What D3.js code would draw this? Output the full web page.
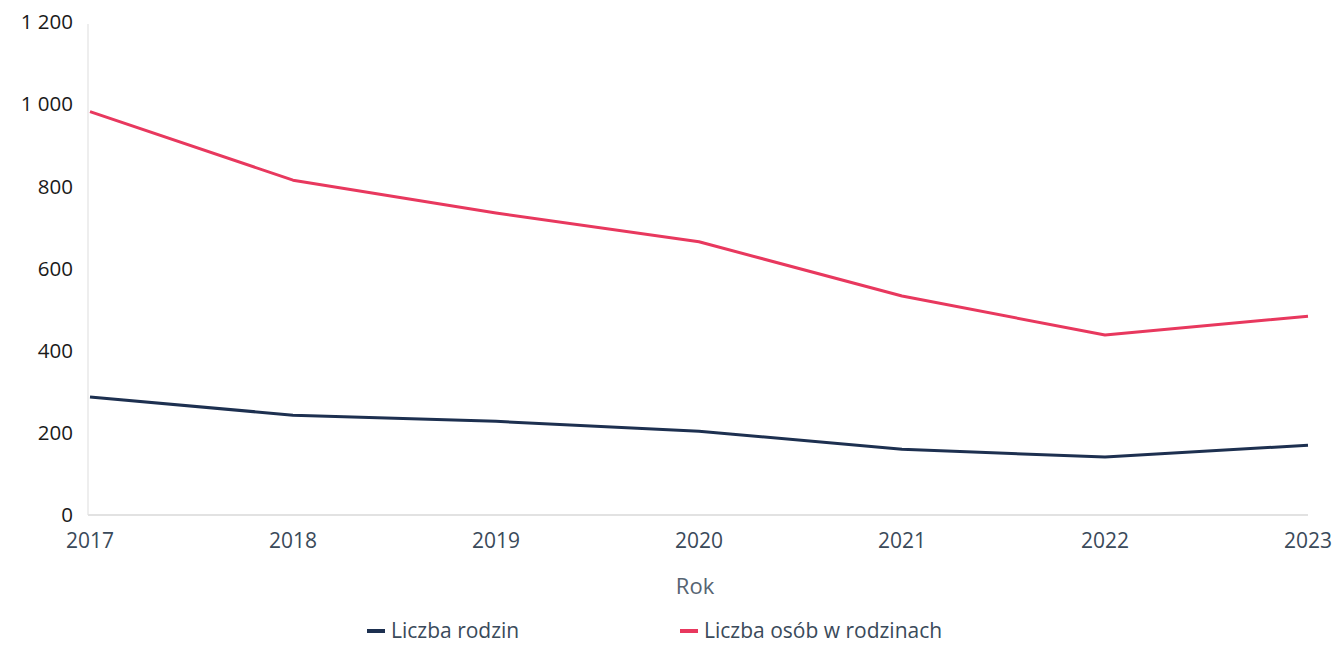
<!DOCTYPE html>
<html>
<head>
<meta charset="utf-8">
<script src="https://cdn.jsdelivr.net/npm/d3@7"></script>
<style>
  body { margin: 0; background: #fff; }
  text { font-family: "Open Sans", "DejaVu Sans", sans-serif; }
</style>
</head>
<body>
<div id="chart"></div>
<script>
// Years on the x axis
const years = [2017, 2018, 2019, 2020, 2021, 2022, 2023];
// Number of families
const families = [287, 243, 228, 204, 160, 141, 170];
// Number of people in families
const persons = [982, 815, 735, 665, 533, 438, 484];
const y_ticks = [0, 200, 400, 600, 800, 1000, 1200];

const width = 1332, height = 645;
const m = { left: 90, right: 1308, top: 22, bottom: 515 };

const svg = d3.select("#chart").append("svg")
    .attr("width", width)
    .attr("height", height);

const x = d3.scalePoint().domain(years).range([m.left, m.right]);
const y = d3.scaleLinear().domain([0, 1200]).range([m.bottom, m.top]);

// light axis lines
svg.append("line")
    .attr("x1", m.left - 2).attr("x2", m.left - 2)
    .attr("y1", m.top + 2).attr("y2", m.bottom)
    .attr("stroke", "#e8e8e8").attr("stroke-width", 1.5);
svg.append("line")
    .attr("x1", m.left - 2).attr("x2", m.right)
    .attr("y1", m.bottom).attr("y2", m.bottom)
    .attr("stroke", "#e2e2e2").attr("stroke-width", 2);

// y tick labels
const fmt = v => v >= 1000 ? d3.format(",")(v).replace(",", " ") : String(v);
svg.selectAll(".ylab")
    .data(y_ticks)
    .join("text")
    .attr("class", "ylab")
    .attr("x", 73)
    .attr("y", d => y(d))
    .attr("dy", "0.35em")
    .attr("text-anchor", "end")
    .attr("font-size", 20.5)
    .attr("fill", "#1a1a1a")
    .text(fmt);

// x tick labels
svg.selectAll(".xlab")
    .data(years)
    .join("text")
    .attr("class", "xlab")
    .attr("x", d => x(d))
    .attr("y", 541)
    .attr("dy", "0.35em")
    .attr("text-anchor", "middle")
    .attr("font-size", 21)
    .attr("fill", "#3a4a5a")
    .text(d => d);

svg.append("text")
    .attr("x", 695).attr("y", 586)
    .attr("dy", "0.35em")
    .attr("text-anchor", "middle")
    .attr("font-size", 22)
    .attr("fill", "#566472")
    .text("Rok");

const line = d3.line().x((d, i) => x(years[i])).y(d => y(d));

const series = [
    { name: "Liczba rodzin", values: families, color: "#1d3050" },
    { name: "Liczba osób w rodzinach", values: persons, color: "#e8385e" }
];

svg.selectAll(".series")
    .data(series)
    .join("path")
    .attr("class", "series")
    .attr("d", d => line(d.values))
    .attr("fill", "none")
    .attr("stroke", d => d.color)
    .attr("stroke-width", 3)
    .attr("stroke-linejoin", "round");

// legend
const legend_x = [367, 680];
const lg = svg.selectAll(".legend")
    .data(series)
    .join("g")
    .attr("class", "legend")
    .attr("transform", (d, i) => `translate(${legend_x[i]},631)`);
lg.append("line")
    .attr("x1", 0).attr("x2", 18)
    .attr("stroke", d => d.color)
    .attr("stroke-width", 4);
lg.append("text")
    .attr("x", 24)
    .attr("dy", "0.35em")
    .attr("font-size", 21)
    .attr("fill", "#3a4a5a")
    .text(d => d.name);
</script>
</body>
</html>
